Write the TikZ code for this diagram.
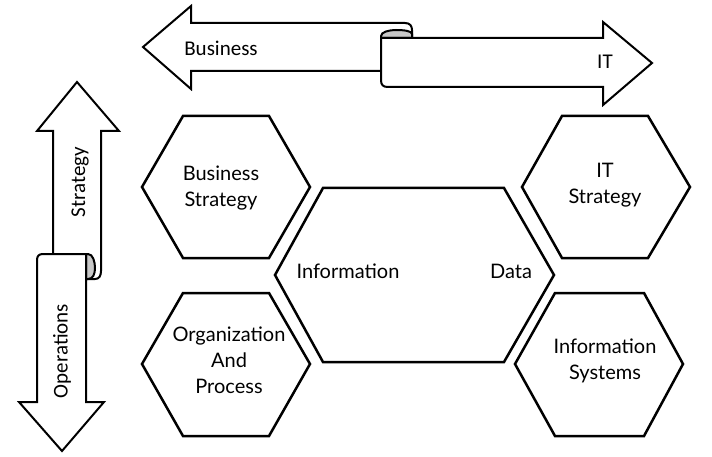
\documentclass[tikz,border=0pt]{standalone}
\usepackage{fontspec}
\usepackage{tikz}
\usetikzlibrary{positioning, calc}
\usepackage{xcolor}
\newfontfamily\hexfont{Lato}
\newfontfamily\arrfont{Carlito}
\definecolor{curlgray}{HTML}{C8C8C8}

\begin{document}
\begin{tikzpicture}[
  x=1pt, y=-1pt,
  hexa/.style={draw=black, line width=2.5pt, line join=miter, fill=white},
  ribbon/.style={draw=black, line width=2pt, line join=miter, fill=white},
  curl/.style={draw=black, line width=2pt, fill=curlgray},
  hexlabel/.style={align=center, inner sep=0pt, font=\hexfont\fontsize{20}{26}\selectfont},
  arrlabel/.style={inner sep=0pt, font=\arrfont\fontsize{21}{25}\selectfont},
]
  \useasboundingbox (0,0) rectangle (712,457);

  % top ribbon: Business <-> IT
  \draw[ribbon] (381,71) -- (191,71) -- (191,89) -- (143,47) -- (191,6) -- (191,23)
    -- (405,23) .. controls (410,23) and (412,26) .. (412,30) -- (412,38);
  \draw[curl] (381,38) -- (381,36) .. controls (381,32) and (389,30) .. (396,30)
    .. controls (404,30) and (412,31) .. (412,34) -- (412,38) -- cycle;
  \draw[ribbon] (412,38) -- (603,38) -- (603,22) -- (652,63) -- (603,105) -- (603,87)
    -- (388,87) .. controls (383,87) and (381,85) .. (381,80) -- (381,38) -- cycle;
  \node[arrlabel] (business) at (221,48) {Business};
  \node[arrlabel] (it) at (605,62) {IT};

  % left ribbon: Strategy <-> Operations
  \draw[ribbon] (53,254) -- (53,131) -- (37,131) -- (77,82) -- (119,131) -- (101,131)
    -- (101,271) .. controls (101,276) and (99,279) .. (95,279) -- (86,279);
  \draw[curl] (86,254) -- (88,254) .. controls (93,254) and (95,262) .. (95,268)
    .. controls (95,274) and (93,279) .. (88,279) -- (86,279) -- cycle;
  \draw[ribbon] (86,254) -- (86,402) -- (104,402) -- (62,451) -- (19,402) -- (37,402)
    -- (37,260) .. controls (37,256) and (39,254) .. (43,254) -- cycle;
  \node[arrlabel, rotate=90] (strategy) at (80,182) {Strategy};
  \node[arrlabel, rotate=90] (operations) at (62,351) {Operations};

  % hexagons
  \draw[hexa] (142,187) -- (183,116) -- (269,116) -- (310,187) -- (269,258) -- (183,258) -- cycle;
  \draw[hexa] (142,364) -- (183,293) -- (269,293) -- (310,364) -- (269,436) -- (183,436) -- cycle;
  \draw[hexa] (275,275) -- (323,188) -- (504,188) -- (554,275) -- (504,362) -- (323,362) -- cycle;
  \draw[hexa] (522,187) -- (562,116) -- (648,116) -- (690,187) -- (648,258) -- (562,258) -- cycle;
  \draw[hexa] (515,364) -- (555,293) -- (644,293) -- (683,364) -- (644,436) -- (555,436) -- cycle;

  \node[hexlabel] (bizstrat) at (221,188) {Business\\Strategy};
  \node[hexlabel] (orgproc) at (229,360) {Organization\\And\\Process};
  \node[hexlabel] (info) at (348,271) {Information};
  \node[hexlabel] (data) at (511,271) {Data};
  \node[hexlabel] (itstrat) at (605,185) {IT\\Strategy};
  \node[hexlabel] (infosys) at (605,361) {Information\\Systems};
\end{tikzpicture}
\end{document}
